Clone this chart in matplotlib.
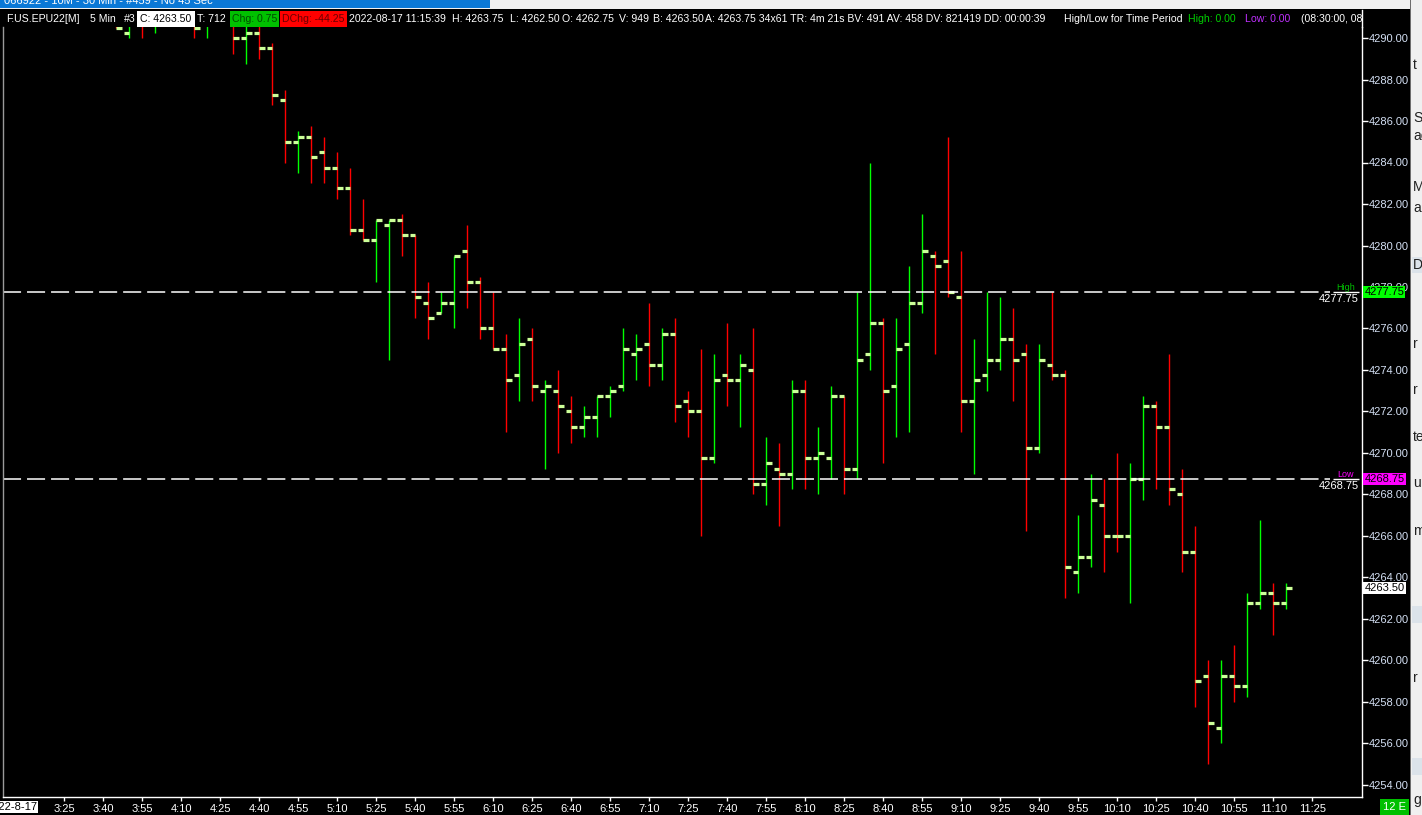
import numpy as np
import matplotlib
matplotlib.use("Agg")
import matplotlib.pyplot as plt
from matplotlib.patches import Rectangle
from matplotlib.lines import Line2D

# 5 min bars, slot 0 = 3:25 ; nan = bar fully above the visible range
first_slot = 4
opens = [4291.00, 4290.25, 4291.50, 4290.75, np.nan, np.nan, 4291.00, 4290.75, np.nan, 4290.75,
         4290.00, 4290.25, 4289.50, 4287.00, 4285.00, 4285.25, 4284.50, 4283.75, 4282.75, 4280.75,
         4280.25, 4281.00, 4281.25, 4280.50, 4277.25, 4276.75, 4277.25, 4279.75, 4278.25, 4276.00,
         4275.00, 4273.75, 4275.50, 4273.00, 4273.00, 4272.00, 4271.25, 4271.75, 4272.75, 4273.25,
         4274.75, 4275.25, 4274.25, 4275.75, 4272.50, 4272.00, 4269.75, 4273.75, 4273.50, 4274.00,
         4268.50, 4269.25, 4269.00, 4273.00, 4269.75, 4269.75, 4272.75, 4269.25, 4274.75, 4276.25,
         4273.25, 4275.25, 4277.25, 4279.50, 4279.25, 4277.50, 4272.50, 4273.75, 4274.50, 4275.50,
         4274.75, 4270.25, 4274.25, 4273.75, 4264.25, 4265.00, 4267.50, 4266.00, 4266.00, 4268.75,
         4272.25, 4271.25, 4268.00, 4265.25, 4259.25, 4256.75, 4259.25, 4258.75, 4262.75, 4263.25,
         4262.75]
highs = [4291.50, 4291.50, 4292.00, 4292.00, np.nan, np.nan, 4292.00, 4291.75, np.nan, 4291.50,
         4291.00, 4291.00, 4289.75, 4287.50, 4285.50, 4285.75, 4285.25, 4284.50, 4283.75, 4282.25,
         4281.25, 4281.25, 4281.50, 4280.50, 4278.25, 4277.75, 4279.50, 4281.00, 4278.50, 4277.75,
         4275.75, 4276.50, 4276.00, 4273.50, 4274.00, 4272.75, 4272.25, 4272.75, 4273.25, 4276.00,
         4275.75, 4277.25, 4276.00, 4276.50, 4273.00, 4275.00, 4274.75, 4276.25, 4274.75, 4276.00,
         4270.75, 4270.50, 4273.50, 4273.50, 4271.25, 4273.25, 4272.75, 4277.75, 4284.00, 4276.50,
         4276.50, 4279.00, 4281.50, 4279.75, 4285.25, 4279.75, 4275.50, 4277.75, 4277.50, 4277.00,
         4275.25, 4275.25, 4277.75, 4274.00, 4267.00, 4269.00, 4268.75, 4270.00, 4269.50, 4272.75,
         4272.50, 4274.75, 4269.25, 4266.50, 4260.00, 4260.00, 4260.75, 4263.25, 4266.75, 4263.75,
         4263.75]
lows = [4290.50, 4290.00, 4290.00, 4290.25, np.nan, np.nan, 4290.00, 4290.00, np.nan, 4289.25,
        4288.75, 4289.00, 4286.75, 4284.00, 4283.50, 4283.00, 4283.00, 4282.25, 4280.50, 4280.25,
        4278.25, 4274.50, 4279.50, 4276.50, 4275.50, 4276.75, 4276.00, 4277.00, 4275.50, 4275.00,
        4271.00, 4272.50, 4272.50, 4269.25, 4270.00, 4270.50, 4270.75, 4270.75, 4271.75, 4273.00,
        4273.50, 4273.25, 4273.50, 4271.50, 4270.75, 4266.00, 4269.50, 4272.25, 4271.25, 4268.00,
        4267.50, 4266.50, 4268.25, 4268.25, 4268.00, 4268.75, 4268.00, 4268.75, 4274.00, 4269.50,
        4270.75, 4271.00, 4276.75, 4274.75, 4277.50, 4271.00, 4269.00, 4273.00, 4274.00, 4272.50,
        4266.25, 4270.00, 4273.50, 4263.00, 4263.25, 4264.50, 4264.25, 4265.25, 4262.75, 4267.75,
        4268.25, 4267.50, 4264.25, 4257.75, 4255.00, 4256.00, 4258.00, 4258.25, 4262.50, 4261.25,
        4262.50]
closes = [4290.50, 4291.00, 4290.75, 4291.50, np.nan, np.nan, 4290.50, 4291.25, np.nan, 4290.00,
          4290.25, 4289.50, 4287.25, 4285.00, 4285.25, 4284.25, 4283.75, 4282.75, 4280.75, 4280.25,
          4281.25, 4281.25, 4280.50, 4277.50, 4276.50, 4277.25, 4279.50, 4278.25, 4276.00, 4275.00,
          4273.50, 4275.25, 4273.25, 4273.25, 4272.25, 4271.25, 4271.75, 4272.75, 4273.00, 4275.00,
          4275.00, 4274.25, 4275.75, 4272.25, 4272.00, 4269.75, 4273.50, 4273.50, 4274.25, 4268.50,
          4269.50, 4269.00, 4273.00, 4269.75, 4270.00, 4272.75, 4269.25, 4274.50, 4276.25, 4273.00,
          4275.00, 4277.25, 4279.75, 4279.00, 4277.75, 4272.50, 4273.50, 4274.50, 4275.50, 4274.50,
          4270.25, 4274.50, 4273.75, 4264.50, 4265.00, 4267.75, 4266.00, 4266.00, 4268.75, 4272.25,
          4271.25, 4268.25, 4265.25, 4259.00, 4257.00, 4259.25, 4258.75, 4262.75, 4263.25, 4262.75,
          4263.50]

time_labels = ["3:25", "3:40", "3:55", "4:10", "4:25", "4:40", "4:55", "5:10", "5:25", "5:40",
               "5:55", "6:10", "6:25", "6:40", "6:55", "7:10", "7:25", "7:40", "7:55", "8:10",
               "8:25", "8:40", "8:55", "9:10", "9:25", "9:40", "9:55", "10:10", "10:25", "10:40",
               "10:55", "11:10", "11:25"]
price_ticks = list(range(4254, 4292, 2))

day_high = 4277.75
day_low = 4268.75
last_price = 4263.50

W, H = 1422, 815
FS = 8
HFS = 7.6   # header text
plt.rcParams['font.family'] = ['Liberation Sans', 'DejaVu Sans']
plt.rcParams['lines.scale_dashes'] = False

fig = plt.figure(figsize=(W / 100, H / 100), dpi=100, facecolor='black')


def fx(px):
    return px / W


def fy(py):
    return 1 - py / H


def px_rect(x0, y0, x1, y1, color, z=3):
    r = Rectangle((fx(x0), fy(y1)), (x1 - x0) / W, (y1 - y0) / H,
                  transform=fig.transFigure, facecolor=color, edgecolor='none', zorder=z)
    fig.add_artist(r)


def px_text(x, y, s, color='white', z=6, **kw):
    fig.text(fx(x), fy(y), s, color=color, fontsize=kw.pop('fontsize', FS),
             va=kw.pop('va', 'center'), ha=kw.pop('ha', 'left'), zorder=z, **kw)


# plot area in pixels: x 3..1362, y 27..797 ; 13 px per bar, bar 0 at x=64.3
ax = fig.add_axes([fx(3), fy(797), (1362 - 3) / W, (797 - 27) / H])
ax.set_facecolor('black')
ax.set_xlim((3 - 64.3) / 13, (1362 - 64.3) / 13)
ax.set_ylim(4290 - (797 - 38) / 20.75, 4290 - (27 - 38) / 20.75)

slots = np.arange(first_slot, first_slot + len(opens))
o = np.array(opens)
h = np.array(highs)
l = np.array(lows)
c = np.array(closes)
ok = ~np.isnan(o)
bar_cols = np.where(c > o, '#00ff00', '#ff0000')

ax.vlines(slots[ok], l[ok], h[ok], colors=bar_cols[ok], linewidth=1.0)
ax.hlines(o[ok], slots[ok] - 0.42, slots[ok], colors='#ccff99', linewidth=2.3, capstyle='butt')
ax.hlines(c[ok], slots[ok], slots[ok] + 0.42, colors='#ccff99', linewidth=2.3, capstyle='butt')

# day high / low lines
x_end = (1330 - 64.3) / 13
ax.hlines([day_high, day_low], (3 - 64.3) / 13, x_end, colors='white',
          linewidth=1.1, linestyles=[(0, (13.0, 4.3))])
x_lab = (1359 - 64.3) / 13
ax.text((1346 - 64.3) / 13, day_high + 0.02, 'High', color='#00c000', fontsize=6.5,
        ha='center', va='bottom', zorder=1)
ax.text((1346 - 64.3) / 13, day_low + 0.02, 'Low', color='#ff00ff', fontsize=6.5,
        ha='center', va='bottom', zorder=1)
ax.hlines([day_high, day_low], x_end + 0.2, x_lab, colors='white', linewidth=1.0)
ax.text(x_lab, day_high - 0.1, f'{day_high:.2f}', color='white', fontsize=FS,
        ha='right', va='top')
ax.text(x_lab, day_low - 0.1, f'{day_low:.2f}', color='white', fontsize=FS,
        ha='right', va='top')

# axes styling
ax.spines['top'].set_visible(False)
for s in ['right', 'bottom', 'left']:
    ax.spines[s].set_color('white')
    ax.spines[s].set_linewidth(1.0)
ax.spines['left'].set_color('#9a9a9a')

ax.yaxis.tick_right()
ax.set_yticks(price_ticks)
ax.set_yticklabels([f'{p:.2f}' for p in price_ticks])
ax.tick_params(axis='y', colors='white', labelcolor='#d4e0f4', length=4, width=1,
               pad=1, labelsize=FS)
ax.set_xticks(np.arange(0, 3 * len(time_labels), 3))
ax.set_xticklabels(time_labels)
ax.tick_params(axis='x', colors='white', labelcolor='white', length=3, width=1,
               pad=2, labelsize=FS)

# price boxes on the scale
yt = ax.get_yaxis_transform()
for val, bg in [(day_high, '#00ff00'), (day_low, '#ff00ff'), (last_price, 'white')]:
    ax.text(1.0 + 2.5 / 1359, val, f'{val:.2f}', transform=yt, color='black', fontsize=FS,
            ha='left', va='center', clip_on=False,
            bbox=dict(facecolor=bg, edgecolor='none', pad=0.8))

# window chrome
px_rect(0, 0, W, 9, '#f0f0f0')
px_rect(0, 0, 490, 8, '#0a78d6', z=4)
px_text(4, 1, '066922 - 10M - 30 Min - #459 - No 45 Sec', z=5)
px_rect(1410, 0, 1411, H, '#6e6e6e')
px_rect(1411, 0, W, H, '#f0f0f0')
for yb in [(257, 273), (606, 623), (758, 775)]:
    px_rect(1412, yb[0], W, yb[1], '#dce3ea', z=4)
for ch, yy in [('t', 65), ('S', 118), ('ac', 136), ('M', 187), ('a', 208), ('D', 265),
               ('r', 344), ('r', 390), ('te', 437), ('u', 483), ('m', 531), ('r', 678),
               ('g', 800)]:
    px_text(1413, yy, ch, color='#222222', fontsize=10)

# header line
ty = 19
px_text(6, ty, 'F.US.EPU22[M]', fontsize=HFS)
px_text(90, ty, '5 Min', fontsize=HFS)
px_text(124, ty, '#3', fontsize=HFS)
px_rect(137, 11, 195, 27, 'white', z=5)
px_text(140, ty, 'C: 4263.50', color='black', fontsize=HFS)
px_text(197, ty, 'T: 712', fontsize=HFS)
px_rect(230, 11, 279, 27, '#00c000', z=5)
px_text(232, ty, 'Chg: 0.75', color='#004a00', fontsize=HFS)
px_rect(280, 11, 347, 27, '#ff0000', z=5)
px_text(282, ty, 'DChg: -44.25', color='#6a0000', fontsize=HFS)
for xx, s in [(349, '2022-08-17 11:15:39'), (452, 'H: 4263.75'), (510, 'L: 4262.50'),
              (562, 'O: 4262.75'), (619, 'V: 949'), (653, 'B: 4263.50'),
              (705, 'A: 4263.75 34x61 TR: 4m 21s BV: 491 AV: 458 DV: 821419 DD: 00:00:39'),
              (1064, 'High/Low for Time Period')]:
    px_text(xx, ty, s, fontsize=HFS)
px_text(1188, ty, 'High: 0.00', color='#00d000', fontsize=HFS)
px_text(1245, ty, 'Low: 0.00', color='#c030ff', fontsize=HFS)
px_text(1301, ty, '(08:30:00, 08:30:00)', fontsize=HFS)
px_rect(1363, 10, 1410, 27, 'black', z=7)
fig.add_artist(Line2D([fx(1362), fx(1362)], [fy(10), fy(27)], color='white', lw=1.0,
                      transform=fig.transFigure, zorder=8))

# bottom bits
px_rect(1380, 799, 1409, H, '#00c000', z=5)
px_text(1394.5, 807, '12 E', ha='center')
px_text(37, 807, '2022-8-17', color='black', ha='right',
        bbox=dict(facecolor='white', edgecolor='none', pad=0.8))

fig.savefig('out.png', dpi=100, facecolor='black')
